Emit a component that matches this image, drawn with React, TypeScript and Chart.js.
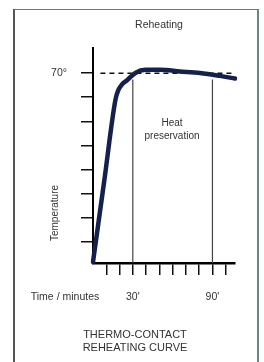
import React, { useEffect, useRef } from "react";
import { Chart, registerables } from "chart.js";

Chart.register(...registerables);

// Reheating curve (minutes, °)
const minutes = [0, 8.5, 16.9, 19.1, 22.1, 25.9, 31.9, 39.4, 50.6, 65.6, 80.6, 95.6, 107];
const temps = [-8.6, 25.3, 58.9, 63, 65.5, 67.2, 70.1, 71.4, 71.4, 70.75, 70.1, 68.9, 67.8];

// Reference marks
const targetTemp = 70;
const dashStart = 5.6;
const dashEnd = 105.5;
const phaseStart = 30;
const phaseEnd = 90;
const phaseTop = 67.4;

// Axes
const xTicks = [10, 20, 30, 40, 50, 60, 70, 80, 90, 100];
const xTickLabels: Record<number, string> = { 30: "30'", 90: "90'" };
const yTicks = [0, 10, 20, 30, 40, 50, 60, 70];
const yTickLabels: Record<number, string> = { 70: "70°" };
const xMin = 0;
const xMax = 107;
const yMin = -9;
const yMax = 80.5;

const FONT = "'Liberation Sans', Arial, sans-serif";
const TEXT = "#333";

export default function App() {
  const ref = useRef<HTMLCanvasElement | null>(null);

  useEffect(() => {
    if (!ref.current) return;
    const curve = minutes.map((m, i) => ({ x: m, y: temps[i] }));
    const chart = new Chart(ref.current, {
      type: "line",
      data: {
        datasets: [
          {
            data: curve,
            borderColor: "#14214d",
            borderWidth: 4.5,
            pointRadius: 0,
            cubicInterpolationMode: "monotone",
            clip: false,
            borderCapStyle: "round",
          },
          {
            data: [
              { x: dashStart, y: targetTemp },
              { x: dashEnd, y: targetTemp },
            ],
            borderColor: "#111",
            borderWidth: 1.5,
            borderDash: [5, 4],
            pointRadius: 0,
          },
          {
            data: [
              { x: phaseStart, y: phaseTop },
              { x: phaseStart, y: yMin },
            ],
            borderColor: "#444",
            borderWidth: 1.2,
            pointRadius: 0,
          },
          {
            data: [
              { x: phaseEnd, y: phaseTop },
              { x: phaseEnd, y: yMin },
            ],
            borderColor: "#444",
            borderWidth: 1.2,
            pointRadius: 0,
          },
        ],
      },
      options: {
        animation: false,
        responsive: false,
        devicePixelRatio: 1,
        layout: { padding: { left: 0, top: 48, right: 29, bottom: 59 } },
        plugins: { legend: { display: false }, tooltip: { enabled: false }, title: { display: false } },
        scales: {
          x: {
            type: "linear",
            min: xMin,
            max: xMax,
            afterBuildTicks: (s: any) => {
              s.ticks = xTicks.map((v) => ({ value: v }));
            },
            afterFit: (s: any) => {
              s.height = 40;
            },
            grid: {
              drawOnChartArea: false,
              drawTicks: true,
              tickLength: 12,
              color: "#111",
              lineWidth: 1.5,
            },
            border: { display: true, color: "#000", width: 2.5 },
            ticks: {
              autoSkip: false,
              maxRotation: 0,
              padding: 16,
              color: TEXT,
              font: { family: FONT, size: 10.5 },
              callback: (v: any) => xTickLabels[v as number] ?? "",
            },
          },
          y: {
            type: "linear",
            min: yMin,
            max: yMax,
            afterBuildTicks: (s: any) => {
              s.ticks = yTicks.map((v) => ({ value: v }));
            },
            afterFit: (s: any) => {
              s.width = 93;
            },
            grid: {
              drawOnChartArea: false,
              drawTicks: true,
              tickLength: 12,
              color: "#111",
              lineWidth: 1.5,
            },
            border: { display: true, color: "#000", width: 2 },
            ticks: {
              autoSkip: false,
              padding: 14,
              color: TEXT,
              font: { family: FONT, size: 10.5 },
              callback: (v: any) => yTickLabels[v as number] ?? "",
            },
          },
        },
      },
    });
    return () => chart.destroy();
  }, []);

  const txt = (extra: React.CSSProperties): React.CSSProperties => ({
    position: "absolute",
    fontFamily: FONT,
    color: TEXT,
    fontSize: 10,
    lineHeight: "13px",
    whiteSpace: "nowrap",
    transform: "translate(-50%, -50%)",
    ...extra,
  });

  return (
    <div style={{ position: "absolute", left: 0, top: 0, width: 264, height: 362, background: "#fff", overflow: "hidden" }}>
      <canvas ref={ref} width={264} height={362} style={{ position: "absolute", left: 0, top: 0, width: 264, height: 362 }} />
      <div
        style={{
          position: "absolute",
          left: 13,
          top: 9,
          width: 242,
          height: 360,
          borderLeft: "2px solid #555",
          borderTop: "1.5px solid #777",
          borderRight: "2px solid #6c8680",
          pointerEvents: "none",
        }}
      />
      <div style={txt({ left: 159, top: 24, fontSize: 10.5 })}>Reheating</div>
      <div style={txt({ left: 172, top: 129, textAlign: "center", fontSize: 10 })}>
        Heat
        <br />
        preservation
      </div>
      <div style={txt({ left: 54, top: 213, transform: "translate(-50%, -50%) rotate(-90deg)", fontSize: 10 })}>Temperature</div>
      <div style={txt({ left: 65, top: 296, fontSize: 10.5 })}>Time / minutes</div>
      <div style={txt({ left: 135, top: 340.5, textAlign: "center", fontSize: 11 })}>
        THERMO-CONTACT
        <br />
        REHEATING CURVE
      </div>
    </div>
  );
}
